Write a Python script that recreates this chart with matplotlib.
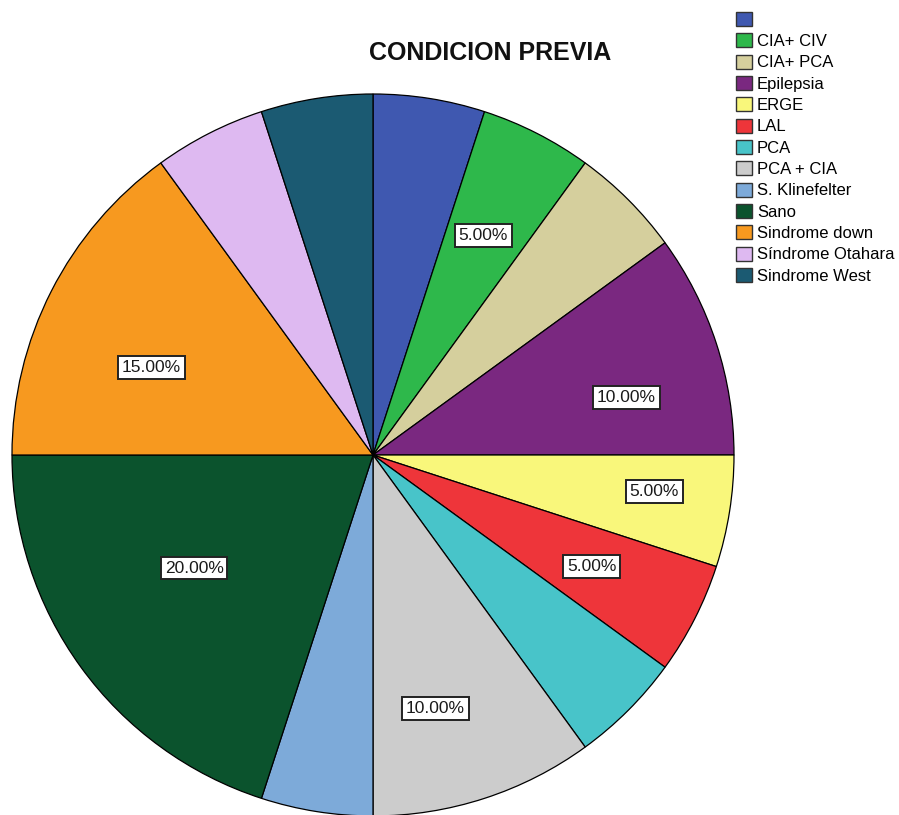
import numpy as np
import matplotlib.pyplot as plt
from matplotlib.patches import Patch

# Conteo de pacientes por condicion previa (n = 20)
categorias = ["", "CIA+ CIV", "CIA+ PCA", "Epilepsia", "ERGE", "LAL", "PCA",
              "PCA + CIA", "S. Klinefelter", "Sano", "Sindrome down",
              "Síndrome Otahara", "Sindrome West"]
conteos = [1, 1, 1, 2, 1, 1, 1, 2, 1, 4, 3, 1, 1]
colores = ["#3F58B0", "#2EB84B", "#D5CF9D", "#7A2880", "#F9F77B", "#EE353A",
           "#48C4C9", "#CCCCCC", "#7DAAD9", "#0B532D", "#F7991F", "#DEB9F1",
           "#1B5A72"]

# Etiquetas visibles: (radio relativo, desplazamiento angular en grados)
etiquetas = {
    "CIA+ CIV": (0.68, 0.3),
    "Epilepsia": (0.72, -5.2),
    "ERGE": (0.785, 1.6),
    "LAL": (0.68, 0.0),
    "PCA + CIA": (0.723, -4.2),
    "Sano": (0.586, -3.7),
    "Sindrome down": (0.66, 5.5),
}

fig = plt.figure(figsize=(8.99, 8.15), dpi=100)
plt.rcParams['font.family'] = ['Liberation Sans', 'DejaVu Sans']

ax = fig.add_axes([12 / 899, -1 / 815, 722 / 899, 722 / 815])
wedges, _ = ax.pie(conteos, colors=colores, startangle=90, counterclock=False,
                   radius=1.0,
                   wedgeprops=dict(edgecolor="black", linewidth=0.9))
for w in wedges:
    w.set_clip_on(False)
ax.set_xlim(-1, 1)
ax.set_ylim(-1, 1)
ax.set_aspect("equal")
ax.axis("off")

total = sum(conteos)
for w, cat, n in zip(wedges, categorias, conteos):
    if cat not in etiquetas:
        continue
    r, da = etiquetas[cat]
    ang = np.deg2rad((w.theta1 + w.theta2) / 2 + da)
    ax.text(r * np.cos(ang), r * np.sin(ang), f"{100 * n / total:.2f}%",
            ha="center", va="center", fontsize=12.5, color="#1a1a1a",
            bbox=dict(boxstyle="square,pad=0.22", fc="white", ec="#222222",
                      lw=1.4))

fig.text(490 / 899, 1 - 53 / 815, "CONDICION PREVIA", ha="center",
         va="center", fontsize=18, fontweight="bold", color="#111111")

handles = [Patch(facecolor=c, edgecolor="#333333", linewidth=1.0)
           for c in colores]
fig.legend(handles, categorias, loc="upper left",
           bbox_to_anchor=(736 / 899, 1 - 12 / 815), frameon=False,
           fontsize=12.0, handlelength=0.95, handleheight=0.9,
           handletextpad=0.3, labelspacing=0.34, borderpad=0,
           borderaxespad=0)

fig.savefig("out.png", dpi=100, facecolor="white")
